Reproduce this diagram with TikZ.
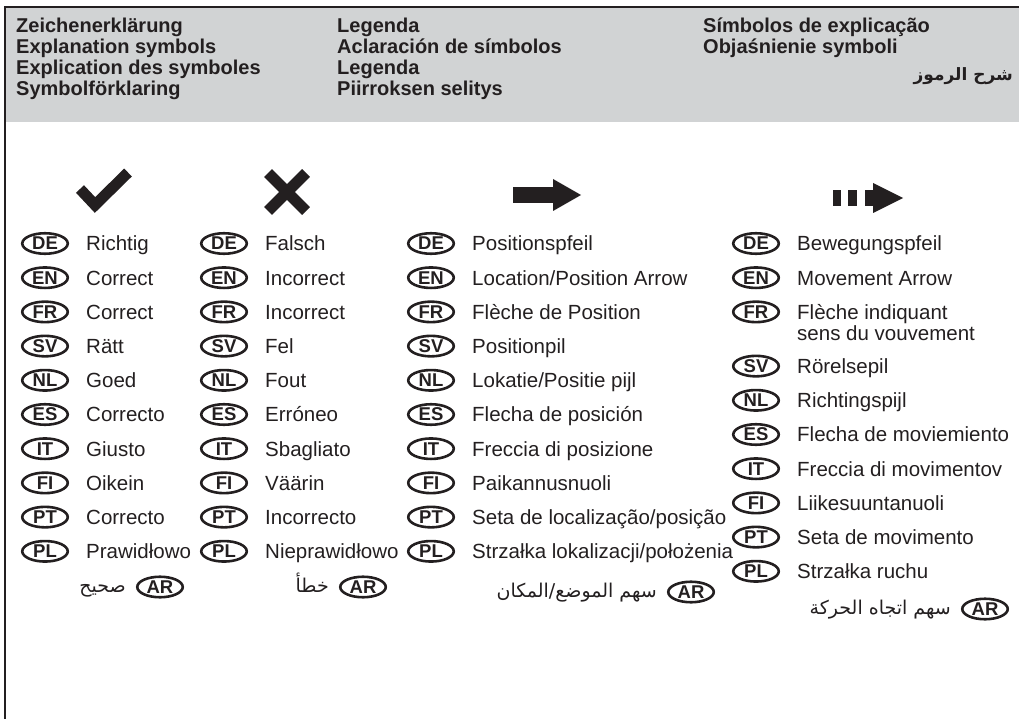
\documentclass[tikz,border=0pt]{standalone}
\usepackage{fontspec}
\setmainfont{Liberation Sans}
\newfontfamily\arabicfont[Script=Arabic]{DejaVu Sans}
\TeXXeTstate=1
\usetikzlibrary{shapes.geometric,calc}
\definecolor{ink}{HTML}{231F20}
\definecolor{headgray}{HTML}{D1D3D4}
\newcommand{\lrow}[4]{%
  \node[badge] (#1b) at (#2) {#3};
  \node[entry] (#1t) at ($(#1b.center)+(41,7.3)$) {#4};}
\begin{document}
\begin{tikzpicture}[x=1pt,y=-1pt,
  badge/.style={ellipse, draw=ink, line width=2.6pt, minimum width=45.5pt, minimum height=20.5pt, inner sep=0pt, text=ink, font=\bfseries\fontsize{18.5}{18.5}\selectfont},
  entry/.style={anchor=base west, inner sep=0pt, text=ink, font=\fontsize{20.5}{24}\selectfont},
  head/.style={anchor=base west, inner sep=0pt, text=ink, font=\bfseries\fontsize{20}{21}\selectfont},
  artext/.style={anchor=base east, inner sep=0pt, text=ink, font=\arabicfont\fontsize{19}{22}\selectfont},
  iconline/.style={draw=ink, line width=11pt, line cap=butt, line join=miter}]
\useasboundingbox (0,0) rectangle (1019,719);
% header
\fill[headgray] (5,7.5) rectangle (1019,122);
\draw[ink, line width=2pt] (5,719) -- (5,7.5) -- (1019,7.5);
\node[head] (h11) at (16,33) {Zeichenerklärung};
\node[head] (h12) at (16,54) {Explanation symbols};
\node[head] (h13) at (16,75) {Explication des symboles};
\node[head] (h14) at (16,96) {Symbolförklaring};
\node[head] (h21) at (337,33) {Legenda};
\node[head] (h22) at (337,54) {Aclaración de símbolos};
\node[head] (h23) at (337,75) {Legenda};
\node[head] (h24) at (337,96) {Piirroksen selitys};
\node[head] (h31) at (703,33) {Símbolos de explicação};
\node[head] (h32) at (703,54) {Objaśnienie symboli};
\node[artext, font=\arabicfont\bfseries\fontsize{17}{20}\selectfont] (h33) at (1013,81) {\beginR شرح الرموز\endR};
% icons
\draw[iconline] (80,189) -- (95,205) -- (128,172.5);
\draw[iconline] (268,173) -- (306,211);
\draw[iconline] (268,211) -- (306,173);
\fill[ink] (513,187) rectangle (553,203);
\fill[ink] (553,179) -- (581,195) -- (553,211) -- cycle;
\fill[ink] (833,190) rectangle (841,206);
\fill[ink] (848,190) rectangle (857,206);
\fill[ink] (865,190) rectangle (874,206);
\fill[ink] (873,183) -- (903,198) -- (873,213) -- cycle;
% column 1
\lrow{c1de}{45,243.5}{DE}{Richtig}
\lrow{c1en}{45,277.7}{EN}{Correct}
\lrow{c1fr}{45,311.9}{FR}{Correct}
\lrow{c1sv}{45,346.1}{SV}{Rätt}
\lrow{c1nl}{45,380.3}{NL}{Goed}
\lrow{c1es}{45,414.5}{ES}{Correcto}
\lrow{c1it}{45,448.7}{IT}{Giusto}
\lrow{c1fi}{45,482.9}{FI}{Oikein}
\lrow{c1pt}{45,517.1}{PT}{Correcto}
\lrow{c1pl}{45,551.3}{PL}{Prawidłowo}
\node[badge] (c1arb) at (160,587) {AR};
\node[artext] (c1art) at ($(c1arb.west)+(-10,5)$) {\beginR صحيح\endR};
% column 2
\lrow{c2de}{224,243.5}{DE}{Falsch}
\lrow{c2en}{224,277.7}{EN}{Incorrect}
\lrow{c2fr}{224,311.9}{FR}{Incorrect}
\lrow{c2sv}{224,346.1}{SV}{Fel}
\lrow{c2nl}{224,380.3}{NL}{Fout}
\lrow{c2es}{224,414.5}{ES}{Erróneo}
\lrow{c2it}{224,448.7}{IT}{Sbagliato}
\lrow{c2fi}{224,482.9}{FI}{Väärin}
\lrow{c2pt}{224,517.1}{PT}{Incorrecto}
\lrow{c2pl}{224,551.3}{PL}{Nieprawidłowo}
\node[badge] (c2arb) at (363,587) {AR};
\node[artext] (c2art) at ($(c2arb.west)+(-10,5)$) {\beginR خطأ\endR};
% column 3
\lrow{c3de}{431,243.5}{DE}{Positionspfeil}
\lrow{c3en}{431,277.7}{EN}{Location/Position Arrow}
\lrow{c3fr}{431,311.9}{FR}{Flèche de Position}
\lrow{c3sv}{431,346.1}{SV}{Positionpil}
\lrow{c3nl}{431,380.3}{NL}{Lokatie/Positie pijl}
\lrow{c3es}{431,414.5}{ES}{Flecha de posición}
\lrow{c3it}{431,448.7}{IT}{Freccia di posizione}
\lrow{c3fi}{431,482.9}{FI}{Paikannusnuoli}
\lrow{c3pt}{431,517.1}{PT}{Seta de localização/posição}
\lrow{c3pl}{431,551.3}{PL}{Strzałka lokalizacji/położenia}
\node[badge] (c3arb) at (691,592) {AR};
\node[artext] (c3art) at ($(c3arb.west)+(-10,5)$) {\beginR سهم الموضع/المكان\endR};
% column 4
\lrow{c4de}{756,243.5}{DE}{Bewegungspfeil}
\lrow{c4en}{756,277.7}{EN}{Movement Arrow}
\lrow{c4fr}{756,311.9}{FR}{Flèche indiquant}
\node[entry] (c4fr2) at ($(c4frt.base west)+(0,21)$) {sens du vouvement};
\lrow{c4sv}{756,366.1}{SV}{Rörelsepil}
\lrow{c4nl}{756,400.3}{NL}{Richtingspijl}
\lrow{c4es}{756,434.5}{ES}{Flecha de moviemiento}
\lrow{c4it}{756,468.7}{IT}{Freccia di movimentov}
\lrow{c4fi}{756,502.9}{FI}{Liikesuuntanuoli}
\lrow{c4pt}{756,537.1}{PT}{Seta de movimento}
\lrow{c4pl}{756,571.3}{PL}{Strzałka ruchu}
\node[badge] (c4arb) at (985,609) {AR};
\node[artext] (c4art) at ($(c4arb.west)+(-10,5)$) {\beginR سهم اتجاه الحركة\endR};
\end{tikzpicture}
\end{document}
